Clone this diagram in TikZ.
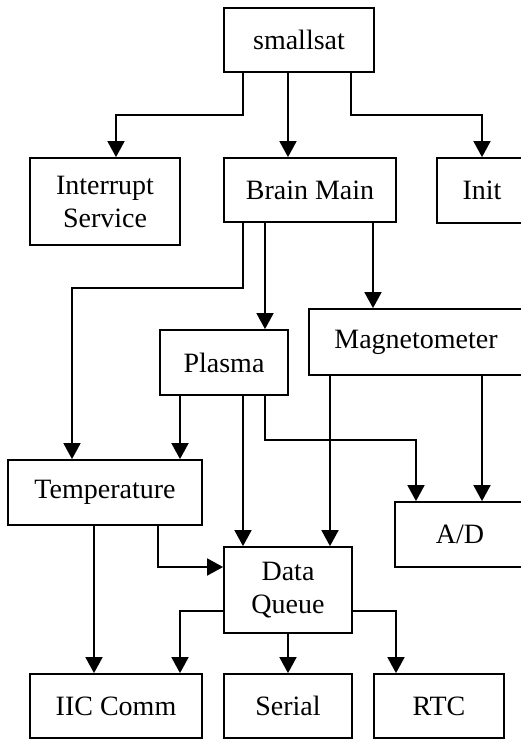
\documentclass[tikz,border=0pt]{standalone}
\usepackage{fontspec}
\setmainfont{Liberation Serif}
\usetikzlibrary{arrows.meta}

\tikzset{
  blk/.style = {draw, rectangle, line width=1.8pt, inner sep=0pt, align=center,
                font=\fontsize{28}{33}\selectfont},
  arr/.style = {line width=1.8pt, -{Triangle[width=17pt,length=16pt]}},
}

\begin{document}
\begin{tikzpicture}[x=1pt, y=-1pt]
  \useasboundingbox (0,0) rectangle (521,739);

  \node[blk, minimum width=150pt, minimum height=64pt] (sat) at (299,40) {smallsat};

  \node[blk, minimum width=150pt, minimum height=87pt] (isr) at (105,201.5) {Interrupt\\Service};
  \node[blk, minimum width=172pt, minimum height=64pt] (brain) at (310,190) {Brain Main};
  \node[blk, minimum width=90pt, minimum height=65pt] (init) at (482,190.5) {Init};

  \node[blk, minimum width=128pt, minimum height=65pt] (plasma) at (224,362.5) {Plasma};
  \node[blk, minimum width=214pt, minimum height=66pt] (magn) at (416,342) {Magnetometer};

  \node[blk, minimum width=194pt, minimum height=65pt] (temp) at (105,492.5) {Temperature};
  \node[blk, minimum width=130pt, minimum height=65pt] (ad) at (460,534.5) {A/D};
  \node[blk, minimum width=128pt, minimum height=86pt] (queue) at (288,590) {Data\\Queue};

  \node[blk, minimum width=172pt, minimum height=64pt] (iic) at (116,706) {IIC Comm};
  \node[blk, minimum width=128pt, minimum height=64pt] (serial) at (288,706) {Serial};
  \node[blk, minimum width=130pt, minimum height=64pt] (rtc) at (439,706) {RTC};

  % smallsat
  \draw[arr] ([xshift=-56pt]sat.south) -- ++(0,42) -| ([xshift=11pt]isr.north);
  \draw[arr] ([xshift=-11pt]sat.south) -- ([xshift=-11pt]sat.south |- brain.north);
  \draw[arr] ([xshift=52pt]sat.south) -- ++(0,42) -| (init.north);

  % brain main
  \draw[arr] ([xshift=-67pt]brain.south) -- ++(0,65) -| ([xshift=-33pt]temp.north);
  \draw[arr] ([xshift=-45pt]brain.south) -- ([xshift=-45pt]brain.south |- plasma.north);
  \draw[arr] ([xshift=63pt]brain.south) -- ([xshift=63pt]brain.south |- magn.north);

  % plasma
  \draw[arr] ([xshift=-44pt]plasma.south) -- ([xshift=-44pt]plasma.south |- temp.north);
  \draw[arr] ([xshift=19pt]plasma.south) -- ([xshift=19pt]plasma.south |- queue.north);
  \draw[arr] ([xshift=41pt]plasma.south) -- ++(0,44) -| ([xshift=-44pt]ad.north);

  % magnetometer
  \draw[arr] ([xshift=-86pt]magn.south) -- ([xshift=-86pt]magn.south |- queue.north);
  \draw[arr] ([xshift=66pt]magn.south) -- ([xshift=66pt]magn.south |- ad.north);

  % temperature
  \draw[arr] ([xshift=-11pt]temp.south) -- ([xshift=-11pt]temp.south |- iic.north);
  \draw[arr] ([xshift=53pt]temp.south) |- ([yshift=23pt]queue.west);

  % data queue
  \draw[arr] ([yshift=-21pt]queue.west) -| ([xshift=64pt]iic.north);
  \draw[arr] (queue.south) -- (serial.north);
  \draw[arr] ([yshift=-21pt]queue.east) -| ([xshift=-43pt]rtc.north);
\end{tikzpicture}
\end{document}
